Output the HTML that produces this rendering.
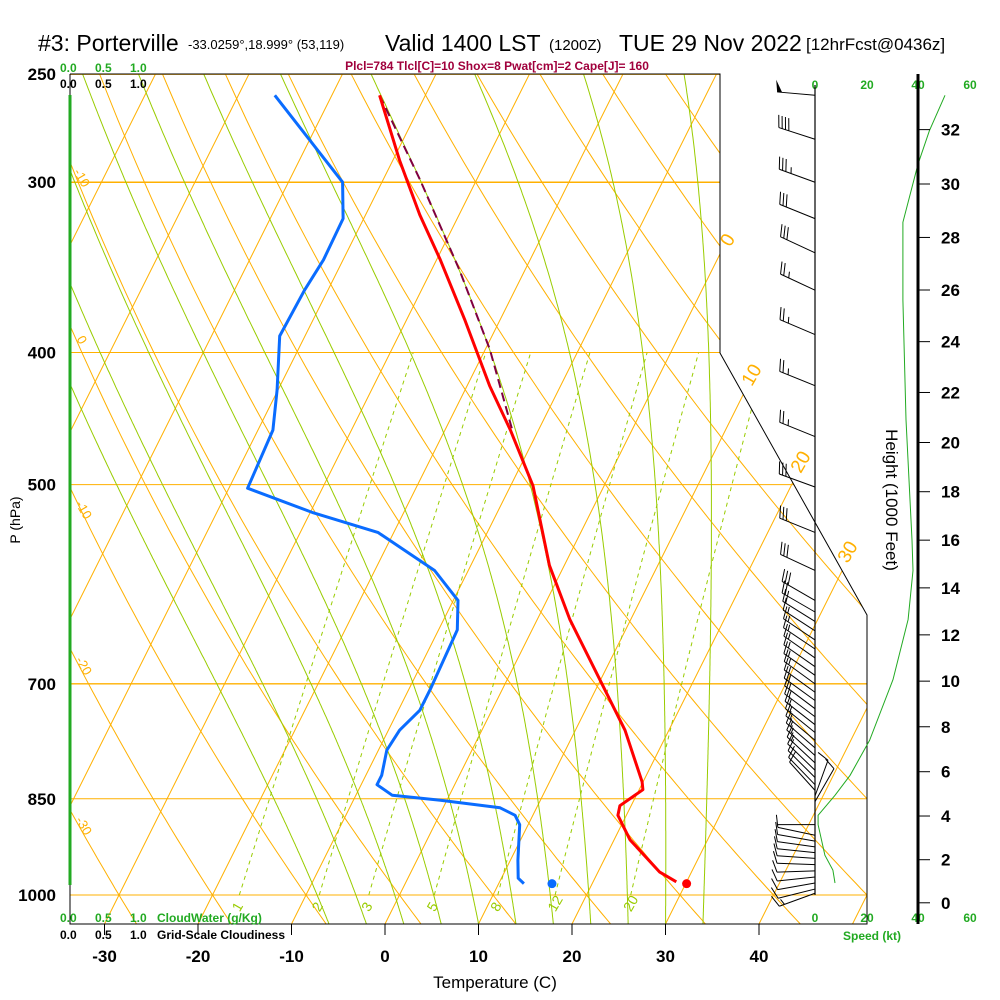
<!DOCTYPE html>
<html><head><meta charset="utf-8"><style>
html,body{margin:0;padding:0;background:#fff;}
svg{display:block;font-family:"Liberation Sans",sans-serif;}
</style></head><body>
<svg id="chart" width="1000" height="1000" viewBox="0 0 1000 1000">
<defs><clipPath id="plotclip"><polygon points="70,74 720,74 720,353 867,615 867,924 70,924"/></clipPath></defs>
<g>
<text x="38" y="51" font-size="23">#3: Porterville</text>
<text x="188" y="49" font-size="13">-33.0259°,18.999° (53,119)</text>
<text x="385" y="51" font-size="23">Valid 1400 LST</text>
<text x="549" y="50" font-size="15">(1200Z)</text>
<text x="619" y="51" font-size="23">TUE 29 Nov 2022</text>
<text x="806" y="50" font-size="17">[12hrFcst@0436z]</text>
</g>
<text x="497" y="70" font-size="12" font-weight="bold" fill="#a0003c" text-anchor="middle">Plcl=784 Tlcl[C]=10 Shox=8 Pwat[cm]=2 Cape[J]= 160</text>
<g id="grid" clip-path="url(#plotclip)"></g>
<g id="series" clip-path="url(#plotclip)"></g>
<g id="frame">
<polyline points="70,74 720,74 720,353 867,615 867,924 70,924 70,74" fill="none" stroke="#000" stroke-width="1"/>
<line x1="70" y1="95" x2="70" y2="885" stroke="#22aa22" stroke-width="3"/>
</g>
<g id="labels"></g>
<g id="wind"></g>
<g id="right"></g>
</svg>
<script>
// ---- chart data ----
const tempP = [259,289,317,342,379,423,456,501,531,573,628,695,757,826,837,860,874,911,962,978];
const tempC = [-44.9,-39.3,-34.2,-29.6,-23.7,-17.6,-13.0,-7.6,-5.0,-1.6,3.5,9.9,15.3,19.9,20.4,18.8,19.1,21.7,26.6,28.9];
const dewP = [259,300,319,342,360,389,426,456,503,524,542,578,608,639,707,732,757,783,817,830,845,852,863,874,888,943,972,981];
const dewC = [-56.1,-44.2,-42.2,-42.1,-42.5,-42.7,-40.1,-38.4,-38.0,-29.8,-21.7,-13.6,-9.5,-8.0,-7.7,-7.7,-8.8,-9.1,-8.3,-8.3,-6.1,-0.7,6.1,8.1,9.1,10.8,11.8,12.7];
const parcelP = [259,299,348,398,456];
const parcelC = [-44.9,-36.0,-27.0,-19.5,-12.8];
const sfcP = 981;
const sfcTemp = 30.1;
const sfcDew = 15.7;
const windP = [259,279,300,319,338,360,388,423,461,502,542,578,608,620,630,640,650,660,670,680,690,700,710,720,730,740,750,760,770,780,790,800,810,820,830,838,846,854,888,904,913,922,931,940,950,960,970,980,990,997];
const windDir = [275,288,290,292,295,295,293,292,292,290,292,295,300,300,302,303,304,304,305,305,305,306,306,306,307,307,308,309,310,311,312,313,314,315,316,318,20,30,270,282,280,278,276,274,272,268,264,260,256,250];
const windSpd = [50,40,35,30,30,25,25,25,25,30,30,30,30,20,20,15,15,15,15,15,15,15,15,15,15,15,15,15,15,15,15,15,10,10,10,10,10,10,0,10,10,10,10,10,10,10,10,10,10,15];
const spdP = [259,275,291,321,366,448,549,578,628,695,770,817,845,874,888,935,959,980];
const spdKt = [50,44,39.6,33.8,33.8,35,37.3,37.7,35.8,30,21,13.5,7.7,1.2,1.2,3.8,6.9,7.7];
const pLevels = [250,300,400,500,700,850,1000];
const tTicks = [-30,-20,-10,0,10,20,30,40];
const hTicks = [0,2,4,6,8,10,12,14,16,18,20,22,24,26,28,30,32];
const mixRatios = [1,2,3,5,8,12,20];
const moistStarts = [-6,-2,2,6,10,14,18,22,26,30,34];

// ---- axis functions ----
const NS='http://www.w3.org/2000/svg';
function yP(p){return 895-592*Math.log(1000/p);}
function xT(T,y){return 385+9.35*T+0.5*(924-y);}
function mk(tag,attrs,parent){const e=document.createElementNS(NS,tag);for(const k in attrs)e.setAttribute(k,attrs[k]);parent.appendChild(e);return e;}
function pathFrom(ps,ts){return ps.map((p,i)=>{const y=yP(p);return (i?'L':'M')+xT(ts[i],y).toFixed(1)+','+y.toFixed(1);}).join(' ');}
const grid=document.getElementById('grid'),series=document.getElementById('series'),labels=document.getElementById('labels'),wind=document.getElementById('wind'),right=document.getElementById('right');

// isobars
pLevels.forEach(p=>{const y=yP(p);
 const l=mk('line',{x1:70,y1:y,x2:867,y2:y,stroke:'#ffb000','stroke-width':(p==300||p==700)?1.4:1},grid);
 
 
});
// isotherms
for(let T=-120;T<=50;T+=10){
 const l=mk('line',{x1:xT(T,924),y1:924,x2:xT(T,74),y2:74,stroke:'#ffb000','stroke-width':1},grid);
 
 
}
// dry adiabats
for(let th=-60;th<=140;th+=10){
 const K=th+273.15;let d='';
 for(let p=1060;p>=240;p-=10){const y=yP(p);const T=K*Math.pow(p/1000,0.286)-273.15;d+=(p==1060?'M':'L')+xT(T,y).toFixed(1)+','+y.toFixed(1);}
 const e=mk('path',{d:d,fill:'none',stroke:'#ffb000','stroke-width':1},grid);
 
 
}
// moist adiabats
function es(T){return 6.112*Math.exp(17.67*T/(T+243.5));}
moistStarts.forEach(T0=>{
 let T=T0+273.15,p=1050,d='';
 let y=yP(p);d='M'+xT(T-273.15,y).toFixed(1)+','+y.toFixed(1);
 while(p>245){const e=es(T-273.15);const rs=0.622*e/(p-e);
  const dTdp=(287*T+2.5e6*rs)/(p*(1005+2.5e6*2.5e6*rs*0.622/(287*T*T)));
  p-=2;T-=dTdp*2;y=yP(p);d+='L'+xT(T-273.15,y).toFixed(1)+','+y.toFixed(1);}
 const e=mk('path',{d:d,fill:'none',stroke:'#99cc00','stroke-width':1},grid);
 
 
});
// mixing ratio lines
mixRatios.forEach(w=>{let d='';
 for(let p=1000;p>=400;p-=10){const e=w*p/(622+w);const L=Math.log(e/6.112);const T=243.5*L/(17.67-L);const y=yP(p);d+=(p==1000?'M':'L')+xT(T,y).toFixed(1)+','+y.toFixed(1);}
 const e=mk('path',{d:d,fill:'none',stroke:'#99cc00','stroke-width':1,'stroke-dasharray':'4,4'},grid);
 
 
 const e2=w*1000/(622+w),L2=Math.log(e2/6.112),T2=243.5*L2/(17.67-L2);
 const t=mk('text',{x:xT(T2,895)-4,y:915,'font-size':14,fill:'#99cc00',transform:'rotate(-60 '+(xT(T2,895)-4)+' 910)'},labels);t.textContent=w;
 
 
});

// series
const parcel=mk('path',{d:pathFrom(parcelP,parcelC),fill:'none',stroke:'#800040','stroke-width':2,'stroke-dasharray':'9,5'},series);


const tl=mk('path',{d:pathFrom(tempP,tempC),fill:'none',stroke:'#ff0000','stroke-width':3,'stroke-linejoin':'round'},series);


const dl=mk('path',{d:pathFrom(dewP,dewC),fill:'none',stroke:'#0a6cff','stroke-width':3,'stroke-linejoin':'round'},series);


const ys=yP(sfcP);
const st=mk('circle',{cx:xT(sfcTemp,ys),cy:ys,r:4.5,fill:'#ff0000'},series);


const sd=mk('circle',{cx:xT(sfcDew,ys),cy:ys,r:4.5,fill:'#0a6cff'},series);



// pressure labels
pLevels.forEach(p=>{const y=p==250?74:yP(p);
 const t=mk('text',{x:56,y:y+6,'font-size':17,'font-weight':'bold','text-anchor':'end'},labels);t.textContent=p;
 
 
});
// temperature ticks
tTicks.forEach(T=>{const x=xT(T,924);
 const l=mk('line',{x1:x,y1:924,x2:x,y2:935,stroke:'#000'},labels);
 
 
 const t=mk('text',{x:x,y:962,'font-size':17,'font-weight':'bold','text-anchor':'middle'},labels);t.textContent=T;
 
 
});
// static labels
const staticTexts=[
 ['Temperature (C)',495,988,17,'#000','middle','x-axis-title'],
 ['0.0',60,72,12,'#22aa22','start','cloudwater-scale-top'],['0.5',95,72,12,'#22aa22','start','cloudwater-scale-top'],['1.0',130,72,12,'#22aa22','start','cloudwater-scale-top'],
 ['0.0',60,88,12,'#000','start','cloudiness-scale-top'],['0.5',95,88,12,'#000','start','cloudiness-scale-top'],['1.0',130,88,12,'#000','start','cloudiness-scale-top'],
 ['0.0',60,922,12,'#22aa22','start','cloudwater-scale-bottom'],['0.5',95,922,12,'#22aa22','start','cloudwater-scale-bottom'],['1.0',130,922,12,'#22aa22','start','cloudwater-scale-bottom'],
 ['CloudWater (g/Kg)',157,922,12,'#22aa22','start','cloudwater-axis-title'],
 ['0.0',60,939,12,'#000','start','cloudiness-scale-bottom'],['0.5',95,939,12,'#000','start','cloudiness-scale-bottom'],['1.0',130,939,12,'#000','start','cloudiness-scale-bottom'],
 ['Grid-Scale Cloudiness',157,939,12,'#000','start','cloudiness-axis-title'],
 ['0',815,89,12,'#22aa22','middle','speed-scale-top'],['20',867,89,12,'#22aa22','middle','speed-scale-top'],['40',918,89,12,'#22aa22','middle','speed-scale-top'],['60',970,89,12,'#22aa22','middle','speed-scale-top'],
 ['0',815,922,12,'#22aa22','middle','speed-scale-bottom'],['20',867,922,12,'#22aa22','middle','speed-scale-bottom'],['40',918,922,12,'#22aa22','middle','speed-scale-bottom'],['60',970,922,12,'#22aa22','middle','speed-scale-bottom'],
 ['Speed (kt)',872,940,12,'#22aa22','middle','speed-axis-title']];
staticTexts.forEach(s=>{const t=mk('text',{x:s[1],y:s[2],'font-size':s[3],fill:s[4],'text-anchor':s[5],'font-weight':s[3]<14?'bold':'normal'},labels);t.textContent=s[0];
 
 
});
const pt=mk('text',{x:20,y:520,'font-size':14,'text-anchor':'middle',transform:'rotate(-90 20 520)'},labels);pt.textContent='P (hPa)';


// isotherm labels right & adiabat labels left
[['0',733,243],['10',757,378],['20',806,465],['30',853,555]].forEach(a=>{
 const t=mk('text',{x:a[1],y:a[2],'font-size':19,fill:'#ffb000','text-anchor':'middle',transform:'rotate(-60 '+a[1]+' '+a[2]+')'},labels);t.textContent=a[0];
 
 
});
[['-10',78,180],['0',78,342],['-10',80,512],['-20',80,668],['-30',80,828]].forEach(a=>{
 const t=mk('text',{x:a[1],y:a[2],'font-size':13,fill:'#ffb000','text-anchor':'middle',transform:'rotate(60 '+a[1]+' '+a[2]+')'},labels);t.textContent=a[0];
 
 
});

// wind barbs
const sv=mk('line',{x1:815,y1:85,x2:815,y2:895,stroke:'#000','stroke-width':1.2},wind);


windP.forEach((p,i)=>{
 const y=yP(p),d=windDir[i]*Math.PI/180;
 const ux=Math.sin(d),uy=-Math.cos(d);
 const len=38,tx=815+ux*len,ty=y+uy*len;
 const g=mk('g',{},wind);
 
 
 mk('line',{x1:815,y1:y,x2:tx,y2:ty,stroke:'#000','stroke-width':1},g);
 let s=windSpd[i],pos=0;
 const fx=-uy,fy=ux;
 let px=(fy<0)?fx:-fx,py=(fy<0)?fy:-fy;
 while(s>=50){const bx=tx-ux*pos,by=ty-uy*pos;
  mk('polygon',{points:bx+','+by+' '+(bx+px*12+ux*2)+','+(by+py*12+uy*2)+' '+(bx-ux*5)+','+(by-uy*5),fill:'#000'},g);s-=50;pos+=7;}
 while(s>=10){const bx=tx-ux*pos,by=ty-uy*pos;
  mk('line',{x1:bx,y1:by,x2:bx+px*12+ux*4,y2:by+py*12+uy*4,stroke:'#000','stroke-width':1},g);s-=10;pos+=3.5;}
 if(s>=5){const bx=tx-ux*(pos+2),by=ty-uy*(pos+2);
  mk('line',{x1:bx,y1:by,x2:bx+px*6+ux*2,y2:by+py*6+uy*2,stroke:'#000','stroke-width':1},g);}
});
// speed profile
const sp=mk('path',{d:spdP.map((p,i)=>(i?'L':'M')+(815+spdKt[i]*52/20).toFixed(1)+','+yP(p).toFixed(1)).join(' '),fill:'none',stroke:'#22aa22','stroke-width':1},wind);



// height axis
const ha=mk('line',{x1:918,y1:74,x2:918,y2:924,stroke:'#000','stroke-width':3},right);


hTicks.forEach(h=>{const m=h*304.8;const p=1013.25*Math.pow(1-2.2558e-5*m,5.2559);const y=yP(p);
 const l=mk('line',{x1:918,y1:y,x2:930,y2:y,stroke:'#000'},right);
 
 
 const t=mk('text',{x:941,y:y+6,'font-size':17,'font-weight':'bold'},right);t.textContent=h;
 
 
});
const ht=mk('text',{x:886,y:500,'font-size':17,'text-anchor':'middle',transform:'rotate(90 886 500)'},right);ht.textContent='Height (1000 Feet)';


</script>
</body></html>
